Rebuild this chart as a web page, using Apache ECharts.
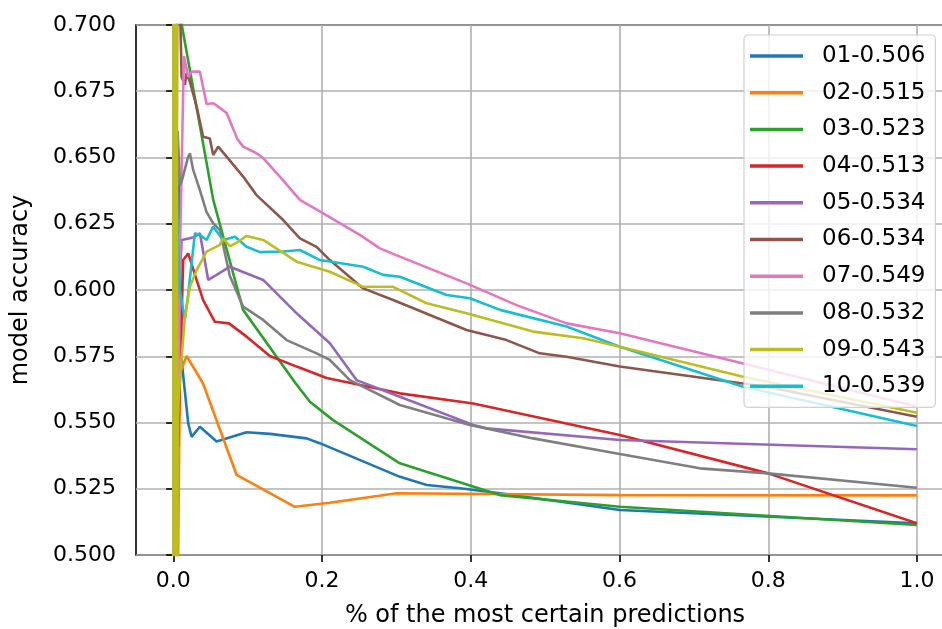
<!DOCTYPE html>
<html>
<head>
<meta charset="utf-8">
<script src="https://cdn.jsdelivr.net/npm/echarts@6/dist/echarts.min.js"></script>
<style>html,body{margin:0;padding:0;background:#fff}#c{width:942px;height:629px}</style>
</head>
<body>
<div id="c"></div>
<script>
// ---- data ----
const seriesNames = ['01-0.506','02-0.515','03-0.523','04-0.513','05-0.534','06-0.534','07-0.549','08-0.532','09-0.543','10-0.539'];
const xTickValues = [0, 0.2, 0.4, 0.6, 0.8, 1.0];
const yTickValues = [0.5, 0.525, 0.55, 0.575, 0.6, 0.625, 0.65, 0.675, 0.7];
const xTitle = '% of the most certain predictions';
const yTitle = 'model accuracy';

const s01 = [[0.007,0.65],[0.0113,0.5736],[0.0202,0.5497],[0.0247,0.5446],[0.0359,0.5484],[0.0584,0.5428],[0.0987,0.5463],[0.13,0.5457],[0.1794,0.544],[0.197,0.5422],[0.305,0.5295],[0.341,0.5264],[0.3855,0.5252],[0.4395,0.5233],[0.6006,0.517],[1.0,0.512]];
const s02 = [[0.006,0.48],[0.009,0.5686],[0.018,0.5751],[0.04,0.5648],[0.0853,0.5302],[0.1636,0.5182],[0.2106,0.5197],[0.3004,0.5233],[0.6,0.5226],[1.0,0.5225]];
const s03 = [[0.006,0.75],[0.0113,0.7004],[0.0538,0.6341],[0.094,0.5925],[0.1614,0.566],[0.1838,0.5578],[0.215,0.5509],[0.3048,0.5346],[0.3407,0.5314],[0.4393,0.5226],[0.6006,0.5182],[1.0,0.5113]];
const s04 = [[0.004,0.7],[0.0067,0.541],[0.0134,0.6113],[0.0202,0.6138],[0.0315,0.6038],[0.0403,0.5962],[0.056,0.588],[0.075,0.5874],[0.0987,0.5824],[0.13,0.5751],[0.166,0.5711],[0.2063,0.5668],[0.3048,0.561],[0.4034,0.5572],[0.6006,0.5453],[0.8,0.5308],[1.0,0.512]];
const s05 = [[0.005,0.55],[0.008,0.6],[0.0113,0.6189],[0.0225,0.6195],[0.0292,0.6201],[0.0359,0.6214],[0.0471,0.6038],[0.0584,0.6057],[0.0762,0.6088],[0.121,0.6038],[0.166,0.5912],[0.2107,0.5799],[0.2466,0.566],[0.3048,0.5597],[0.4034,0.5491],[0.4214,0.5478],[0.6006,0.5434],[1.0,0.5399]];
const s06 = [[0.004,0.6],[0.006,0.75],[0.0113,0.6805],[0.0157,0.6774],[0.018,0.6818],[0.0225,0.6786],[0.0315,0.6692],[0.0403,0.6578],[0.0493,0.6572],[0.0538,0.6509],[0.0605,0.6541],[0.0718,0.6503],[0.0941,0.6428],[0.1121,0.6358],[0.1479,0.6264],[0.1704,0.6195],[0.1928,0.6163],[0.2107,0.6113],[0.2555,0.6006],[0.2958,0.5962],[0.3945,0.5849],[0.4483,0.5811],[0.493,0.5761],[0.529,0.5748],[0.6006,0.5711],[0.798,0.5635],[1.0,0.5522]];
const s07 = [[0.003,0.45],[0.0095,0.62],[0.0144,0.6883],[0.0202,0.6805],[0.0247,0.6824],[0.0359,0.6824],[0.0449,0.6702],[0.0538,0.6705],[0.0605,0.6692],[0.0718,0.6668],[0.0863,0.657],[0.0941,0.6541],[0.1121,0.6516],[0.121,0.6498],[0.1435,0.6428],[0.1704,0.634],[0.2017,0.6289],[0.251,0.6208],[0.2779,0.6157],[0.3048,0.6126],[0.3945,0.6025],[0.4617,0.5943],[0.529,0.5874],[0.6006,0.5837],[0.7664,0.5723],[1.0,0.556]];
const s08 = [[0.0035,0.7],[0.0046,0.634],[0.006,0.66],[0.009,0.6396],[0.0113,0.6409],[0.0202,0.6503],[0.0225,0.6516],[0.0269,0.6453],[0.0359,0.6377],[0.0449,0.6294],[0.0538,0.6252],[0.0628,0.6226],[0.0762,0.6053],[0.0941,0.5937],[0.121,0.5887],[0.1525,0.5811],[0.1928,0.5761],[0.2107,0.5736],[0.2376,0.566],[0.3048,0.5566],[0.3989,0.5491],[0.484,0.544],[0.6006,0.5381],[0.7082,0.5327],[0.8,0.5308],[1.0,0.5254]];
const s09 = [[0.0,1.0],[0.0004,0.0],[0.0008,1.0],[0.0012,0.0],[0.0016,1.0],[0.002,0.0],[0.0024,1.0],[0.0028,0.0],[0.0032,1.0],[0.0036,0.0],[0.004,1.0],[0.0044,0.3],[0.0048,0.8],[0.0054,0.45],[0.006,0.553],[0.009,0.566],[0.0157,0.5899],[0.0225,0.6012],[0.0315,0.6075],[0.0449,0.6145],[0.0628,0.617],[0.0672,0.6195],[0.0762,0.6165],[0.0874,0.6182],[0.0987,0.6204],[0.121,0.6189],[0.166,0.6107],[0.2107,0.6069],[0.2555,0.6012],[0.2958,0.6012],[0.3407,0.595],[0.3945,0.5912],[0.484,0.5843],[0.5513,0.5818],[0.6006,0.5786],[0.7664,0.5673],[1.0,0.5537]];
const s10 = [[0.003,0.5],[0.0042,0.66],[0.006,0.62],[0.009,0.6],[0.0157,0.5887],[0.02,0.598],[0.0292,0.6214],[0.0359,0.6208],[0.0449,0.6189],[0.0538,0.6239],[0.0672,0.6189],[0.083,0.6201],[0.0987,0.6163],[0.1166,0.6143],[0.1479,0.6145],[0.1704,0.6151],[0.1973,0.6113],[0.2555,0.6088],[0.2824,0.6057],[0.3048,0.605],[0.3676,0.5981],[0.399,0.5969],[0.4395,0.5925],[0.529,0.5862],[0.6006,0.5786],[0.7664,0.5635],[1.0,0.5487]];
const seriesData = [s01,s02,s03,s04,s05,s06,s07,s08,s09,s10];

// ---- style ----
const palette = ['#1f77b4','#ff7f0e','#2ca02c','#d62728','#9467bd','#8c564b','#e377c2','#7f7f7f','#bcbd22','#17becf'];
const FONT = 'DejaVu Sans';
const FS_TICK = 22;
const FS_TITLE = 24;
const FS_LEG = 23;

const chart = echarts.init(document.getElementById('c'), null, {renderer:'canvas'});
const option = {
  animation: false,
  backgroundColor: '#fff',
  color: palette,
  textStyle: {fontFamily: FONT},
  grid: [
    {left: 136, right: -12, top: 25, bottom: 74, show: true, borderColor: '#000', borderWidth: 1.6, backgroundColor: 'transparent', outerBoundsMode: 'none'},
    {left: 173.3, right: 25, top: 25, bottom: 74, outerBoundsMode: 'none'}
  ],
  xAxis: [
    {type: 'value', gridIndex: 0, min: -0.05, max: 1.05,
     axisLine: {show: false}, axisTick: {show: false}, axisLabel: {show: false}, splitLine: {show: false},
     name: xTitle, nameLocation: 'middle', nameGap: 49,
     nameTextStyle: {fontFamily: FONT, fontSize: FS_TITLE, color: '#000'}},
    {type: 'value', gridIndex: 1, min: xTickValues[0], max: xTickValues[xTickValues.length-1], interval: 0.2,
     axisLine: {show: false},
     axisTick: {show: true, inside: false, length: 7, lineStyle: {color: '#000', width: 1.6}},
     axisLabel: {show: true, margin: 15, fontFamily: FONT, fontSize: FS_TICK, color: '#000', formatter: v => v.toFixed(1)},
     splitLine: {show: true, lineStyle: {color: '#b0b0b0', width: 1.6}}}
  ],
  yAxis: [
    {type: 'value', gridIndex: 0, min: yTickValues[0], max: yTickValues[yTickValues.length-1], interval: 0.025,
     axisLine: {show: false},
     axisTick: {show: true, inside: false, length: 7, lineStyle: {color: '#000', width: 1.6}},
     axisLabel: {show: true, margin: 20, fontFamily: FONT, fontSize: FS_TICK, color: '#000', formatter: v => v.toFixed(3)},
     splitLine: {show: true, lineStyle: {color: '#b0b0b0', width: 1.6}},
     name: yTitle, nameLocation: 'middle', nameGap: 103, nameRotate: 90,
     nameTextStyle: {fontFamily: FONT, fontSize: FS_TITLE, color: '#000'}},
    {type: 'value', gridIndex: 1, min: 0.5, max: 0.7, show: false}
  ],
  legend: {
    show: true, orient: 'vertical', left: 744, top: 35, z: 10,
    padding: [8, 10, 8, 6], itemGap: 10.7, itemWidth: 53, itemHeight: 3.5, icon: 'rect',
    backgroundColor: 'rgba(255,255,255,0.8)', borderColor: '#d0d0d0', borderWidth: 1.2, borderRadius: 4,
    textStyle: {fontFamily: FONT, fontSize: FS_LEG, color: '#000', lineHeight: 26, padding: [0,0,0,14]},
    data: seriesNames
  },
  series: seriesData.map((d, i) => ({
    name: seriesNames[i], type: 'line', xAxisIndex: 0, yAxisIndex: 0,
    data: d, showSymbol: false, symbol: 'none', clip: true,
    lineStyle: {width: 2.6, color: palette[i]}, itemStyle: {color: palette[i]},
    z: i === 8 ? 4 : 3
  }))
};
chart.setOption(option);
</script>
</body>
</html>
